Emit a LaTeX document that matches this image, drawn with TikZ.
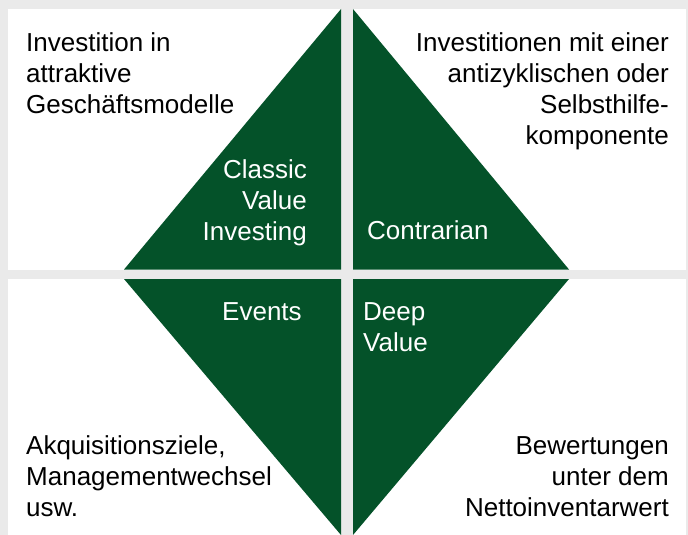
\documentclass[tikz,border=0pt]{standalone}
\usepackage{fontspec}
\setmainfont{Liberation Sans}
\definecolor{dgreen}{RGB}{4,82,41}
\definecolor{bggray}{RGB}{234,234,234}
\newcommand{\blockL}[1]{\begin{tabular}[t]{@{}l@{}}#1\end{tabular}}
\newcommand{\blockR}[1]{\begin{tabular}[t]{@{}r@{}}#1\end{tabular}}
\begin{document}
\begin{tikzpicture}[x=1pt,y=-1pt,
  panel/.style={fill=white},
  tri/.style={fill=dgreen},
  lbl/.style={inner sep=0pt, font=\fontsize{26}{31}\selectfont},
  dark/.style={lbl, text=black},
  light/.style={lbl, text=white}]
\fill[bggray] (0,0) rectangle (688,535);
\useasboundingbox (0,0) rectangle (688,535);
% panels
\fill[panel] (8,9) rectangle (341,269.5);
\fill[panel] (353,9) rectangle (686,269.5);
\fill[panel] (8,279) rectangle (341,535);
\fill[panel] (353,279) rectangle (686,535);
% diamond quarters
\fill[tri] (341,9) -- (124,269.5) -- (341,269.5) -- cycle;
\fill[tri] (353,9) -- (569,269.5) -- (353,269.5) -- cycle;
\fill[tri] (124,279) -- (341,279) -- (341,535) -- cycle;
\fill[tri] (353,279) -- (569,279) -- (353,535) -- cycle;
% outer texts
\node[dark, anchor=base west] (tl) at (26,52) {\blockL{Investition in\\attraktive\\Geschäftsmodelle}};
\node[dark, anchor=base east] (tr) at (669,52) {\blockR{Investitionen mit einer\\antizyklischen oder\\Selbsthilfe-\\komponente}};
\node[dark, anchor=base west] (bl) at (26,454) {\blockL{Akquisitionsziele,\\Managementwechsel\\usw.}};
\node[dark, anchor=base east] (br) at (669,454) {\blockR{Bewertungen\\unter dem\\Nettoinventarwert}};
% inner texts
\node[light, anchor=base east] (cv) at (307,178) {\blockR{Classic\\Value\\Investing}};
\node[light, anchor=base west] (ct) at (367,239) {Contrarian};
\node[light, anchor=base west] (ev) at (222,320) {Events};
\node[light, anchor=base west] (dv) at (363,320) {\blockL{Deep\\Value}};
\end{tikzpicture}
\end{document}
